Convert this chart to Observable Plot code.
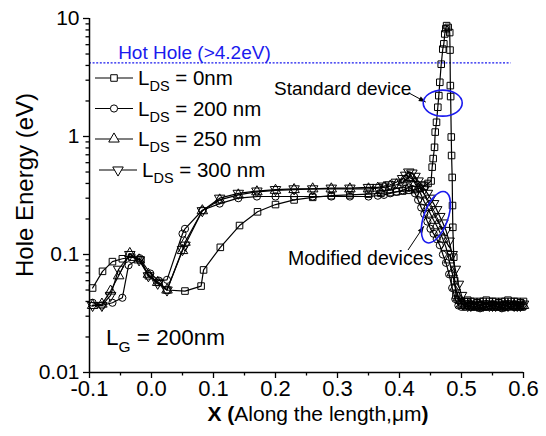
<!DOCTYPE html>
<html><head><meta charset="utf-8">
<script src="https://cdn.jsdelivr.net/npm/d3@7"></script>
<script src="https://cdn.jsdelivr.net/npm/@observablehq/plot@0.6"></script>
<style>
body{margin:0;background:#fff}
svg{font-family:"Liberation Sans",Arial,sans-serif}
text{white-space:pre}
</style>
</head><body><div id="chart"></div><script>
// ---- data ----
const seriesNames = ["LDS = 0nm", "LDS = 200 nm", "LDS = 250 nm", "LDS = 300 nm"];
const legendValues = ["0nm", "200 nm", "250 nm", "300 nm"];
const xTicks = [-0.1, 0.0, 0.1, 0.2, 0.3, 0.4, 0.5, 0.6];
const xMinor = [-0.05, 0.05, 0.15, 0.25, 0.35, 0.45, 0.55];
const yTicks = [0.01, 0.1, 1, 10];
const yMinor = [0.02,0.03,0.04,0.05,0.06,0.07,0.08,0.09,0.2,0.3,0.4,0.5,0.6,0.7,0.8,0.9,2,3,4,5,6,7,8,9];
const hotHole = 4.2;
const hotHoleSpan = [-0.1, 0.58];

const xFlat = [0.500,0.505,0.510,0.515,0.520,0.525,0.530,0.535,0.540,0.545,0.550,0.555,0.560,0.565,0.570,0.575,0.580,0.585,0.590,0.595,0.600];

// LDS = 0 nm (standard device, squares)
const x0 = [-0.095,-0.079,-0.063,-0.047,-0.032,-0.017,-0.005,0.012,0.025,0.054,0.080,0.084,0.111,0.142,0.171,0.200,0.230,0.260,0.290,0.320,0.350,0.370,0.385,0.395,0.405,0.415,0.425,0.433,0.440,0.446,
  0.451,0.4527,0.4543,0.4565,0.4576,0.4597,0.4618,0.4634,0.465,0.4673,0.4698,0.4715,0.473,0.4747,0.476,0.4785,0.481,0.4815,0.482,0.4825,0.4835,0.484,0.485,0.4855,0.486,0.4875,0.489,0.491,0.495].concat(xFlat);
const y0 = [0.052,0.072,0.087,0.092,0.095,0.090,0.066,0.058,0.050,0.049,0.054,0.074,0.115,0.176,0.230,0.265,0.290,0.305,0.315,0.320,0.325,0.330,0.335,0.340,0.345,0.350,0.355,0.365,0.380,0.400,
  0.42,0.55,0.65,0.81,1.09,1.32,1.77,2.22,2.88,4.1,5.5,6.1,7.4,8.2,8.7,8.4,7.6,5.4,2.7,2.18,0.99,0.69,0.45,0.26,0.17,0.095,0.06,0.045,0.041,
  0.040,0.040,0.041,0.040,0.040,0.039,0.040,0.040,0.041,0.040,0.040,0.040,0.039,0.040,0.040,0.041,0.040,0.040,0.040,0.039,0.040];

const xDense = [0.365,0.375,0.385,0.395,0.405,0.410,0.415,0.420,0.425,0.430,0.435,0.440,0.445,0.450,0.455,0.460,0.465,0.470,0.475,0.480,0.485,0.490,0.495];

// LDS = 200 nm (circles)
const x1 = [-0.095,-0.080,-0.063,-0.047,-0.037,-0.019,-0.002,0.012,0.025,0.050,0.054,0.082,0.110,0.140,0.170,0.200,0.230,0.260,0.290,0.320,0.350].concat(xDense, xFlat);
const y1 = [0.039,0.037,0.039,0.043,0.081,0.093,0.069,0.060,0.061,0.150,0.165,0.237,0.270,0.300,0.310,0.310,0.310,0.310,0.310,0.310,0.310,
  0.315,0.320,0.330,0.340,0.350,0.360,0.370,0.360,0.330,0.290,0.250,0.220,0.190,0.165,0.150,0.135,0.120,0.100,0.085,0.068,0.052,0.042,0.037,
  0.036,0.036,0.037,0.036,0.036,0.036,0.035,0.036,0.036,0.037,0.036,0.036,0.036,0.035,0.036,0.036,0.037,0.036,0.036,0.036,0.036];

// LDS = 250 nm (up triangles)
const x2 = [-0.095,-0.080,-0.066,-0.053,-0.035,-0.020,-0.005,0.010,0.025,0.050,0.054,0.082,0.110,0.140,0.170,0.200,0.230,0.260,0.290,0.320,0.350].concat(xDense, xFlat);
const y2 = [0.037,0.038,0.049,0.066,0.102,0.090,0.068,0.058,0.050,0.108,0.127,0.235,0.290,0.320,0.340,0.350,0.355,0.360,0.360,0.360,0.360,
  0.365,0.370,0.380,0.390,0.410,0.430,0.450,0.440,0.400,0.360,0.320,0.280,0.250,0.220,0.195,0.175,0.155,0.135,0.115,0.090,0.070,0.053,0.043,
  0.038,0.037,0.036,0.037,0.036,0.036,0.037,0.036,0.036,0.036,0.037,0.036,0.036,0.036,0.037,0.036,0.036,0.037,0.036,0.036,0.037];

// LDS = 300 nm (down triangles)
const x3 = [-0.095,-0.080,-0.066,-0.053,-0.035,-0.020,-0.005,0.010,0.025,0.050,0.054,0.082,0.110,0.140,0.170,0.200,0.230,0.260,0.290,0.320,0.350].concat(xDense, xFlat);
const y3 = [0.037,0.037,0.045,0.075,0.100,0.090,0.066,0.057,0.050,0.110,0.120,0.235,0.300,0.330,0.345,0.355,0.360,0.360,0.365,0.365,0.370,
  0.370,0.380,0.390,0.410,0.440,0.470,0.500,0.490,0.460,0.420,0.390,0.360,0.330,0.300,0.270,0.240,0.210,0.185,0.160,0.130,0.100,0.075,0.056,
  0.045,0.040,0.037,0.037,0.038,0.037,0.037,0.037,0.038,0.037,0.037,0.037,0.038,0.037,0.037,0.037,0.038,0.037,0.037,0.037,0.038];

// ---- build table ----
const allX = [x0, x1, x2, x3], allY = [y0, y1, y2, y3];
const rows = [];
allX.forEach((xs, i) => xs.forEach((x, j) => rows.push({series: seriesNames[i], x, y: allY[i][j]})));

const sqrt3 = Math.sqrt(3);
const triangleDown = {draw(ctx, size) {
  const y = -Math.sqrt(size / (sqrt3 * 3));
  ctx.moveTo(0, -y * 2); ctx.lineTo(-sqrt3 * y, y); ctx.lineTo(sqrt3 * y, y); ctx.closePath();
}};
const symbols = ["square", "circle", "triangle", triangleDown];
const d3Symbols = [d3.symbolSquare, d3.symbolCircle, d3.symbolTriangle, triangleDown];
const radii = [3.7, 3.6, 3.9, 3.9];

const W = 546, H = 436;
const chart = Plot.plot({
  width: W, height: H,
  marginLeft: 89, marginRight: 23, marginTop: 18, marginBottom: 64,
  style: {fontFamily: '"Liberation Sans", Arial, sans-serif', fontSize: "20px", background: "white", color: "black"},
  x: {domain: [-0.1, 0.6], label: null},
  y: {type: "log", domain: [0.01, 10], label: null},
  marks: [
    Plot.ruleY([{y: hotHole, x1: hotHoleSpan[0], x2: hotHoleSpan[1]}], {y: "y", x1: "x1", x2: "x2", stroke: "#1a1aee", strokeWidth: 1.3, strokeDasharray: "2,1.6"}),
    Plot.line(rows, {x: "x", y: "y", z: "series", stroke: "black", strokeWidth: 1.2}),
    ...seriesNames.map((s, i) => Plot.dot(rows.filter(d => d.series === s), {x: "x", y: "y", symbol: symbols[i], r: radii[i], stroke: "black", fill: "none", strokeWidth: 1})),
    Plot.axisX(xTicks, {tickSize: 6, tickPadding: 2, tickFormat: d => d.toFixed(1), fontSize: 22, strokeWidth: 1.3, label: null}),
    Plot.axisX(xMinor, {tickSize: 3.5, tickFormat: () => "", strokeWidth: 1.3, label: null}),
    Plot.axisY(yTicks, {tickSize: 6, tickPadding: 4, tickFormat: d => String(d), fontSize: 21, strokeWidth: 1.3, label: null}),
    Plot.axisY(yMinor, {tickSize: 3.5, tickFormat: () => "", strokeWidth: 1.3, label: null}),
    Plot.ruleX([-0.1], {strokeWidth: 1.5}),
    Plot.ruleY([0.01], {strokeWidth: 1.5})
  ]
});
document.getElementById("chart").appendChild(chart);

// ---- annotations (positioned with the plot's scales) ----
const X = chart.scale("x"), Y = chart.scale("y");
const svg = d3.select(chart);
const g = svg.append("g").attr("text-anchor", "start");
const blue = "#1a1aee";

// axis titles
g.append("text").attr("transform", `translate(33,${(Y.apply(10)+Y.apply(0.01))/2 - 10}) rotate(-90)`)
  .attr("text-anchor", "middle").attr("font-size", 24).text("Hole Energy (eV)");
const xt = g.append("text").attr("x", 318).attr("y", 421).attr("text-anchor", "middle").attr("font-size", 21);
xt.append("tspan").attr("font-weight", "bold").text("X (");
xt.append("tspan").text("Along the length,μm");
xt.append("tspan").attr("font-weight", "bold").text(")");

// hot hole label
g.append("text").attr("x", X.apply(-0.053)).attr("y", Y.apply(hotHole) - 3.5)
  .attr("fill", blue).attr("font-size", 19).text("Hot Hole (>4.2eV)");

// legend
const legY = [85, 115.5, 146, 177];
const legDx = [0, 0, 0, 4];
legendValues.forEach((v, i) => {
  const cy = legY[i] - 7, ox = legDx[i];
  g.append("line").attr("x1", 95 + ox).attr("x2", 133 + ox).attr("y1", cy).attr("y2", cy).attr("stroke", "black").attr("stroke-width", 1.2);
  g.append("path").attr("d", d3.symbol(d3Symbols[i], Math.PI * radii[i] * radii[i])())
    .attr("transform", `translate(${114 + ox},${cy})`).attr("fill", "white").attr("stroke", "black");
  const t = g.append("text").attr("x", 138 + ox).attr("y", legY[i]).attr("font-size", 20.5);
  t.append("tspan").text("L");
  t.append("tspan").attr("font-size", 14.5).attr("dy", 6).text("DS");
  t.append("tspan").attr("dy", -6).text(" = " + v);
});

// LG label
const lg = g.append("text").attr("x", 106).attr("y", 345).attr("font-size", 22.5);
lg.append("tspan").text("L");
lg.append("tspan").attr("font-size", 15.5).attr("dy", 7).text("G");
lg.append("tspan").attr("dy", -7).text(" = 200nm");

// arrows
function arrow(x1, y1, x2, y2) {
  g.append("line").attr("x1", x1).attr("y1", y1).attr("x2", x2).attr("y2", y2).attr("stroke", "black").attr("stroke-width", 1);
  const a = Math.atan2(y2 - y1, x2 - x1), L = 7, w = 2.6;
  const p = [[x2, y2], [x2 - L*Math.cos(a) + w*Math.sin(a), y2 - L*Math.sin(a) - w*Math.cos(a)], [x2 - L*Math.cos(a) - w*Math.sin(a), y2 - L*Math.sin(a) + w*Math.cos(a)]];
  g.append("path").attr("d", "M" + p.join("L") + "Z").attr("fill", "black");
}

// standard device
g.append("text").attr("x", 274).attr("y", 95).attr("font-size", 19).text("Standard device");
const e1x = X.apply(0.4705), e1y = Y.apply(1.9);
arrow(409, 93, e1x - 17, e1y - 1);
g.append("ellipse").attr("cx", e1x).attr("cy", e1y).attr("rx", 19.5).attr("ry", 13).attr("fill", "none").attr("stroke", blue).attr("stroke-width", 1.6);

// modified devices
g.append("text").attr("x", 288).attr("y", 265).attr("font-size", 19.5).text("Modified devices");
const e2x = X.apply(0.4595), e2y = Y.apply(0.205);
arrow(408, 250, e2x - 12, e2y + 9);
g.append("ellipse").attr("cx", e2x).attr("cy", e2y).attr("rx", 12).attr("ry", 27)
  .attr("transform", `rotate(20,${e2x},${e2y})`).attr("fill", "none").attr("stroke", blue).attr("stroke-width", 1.6);
</script></body></html>
